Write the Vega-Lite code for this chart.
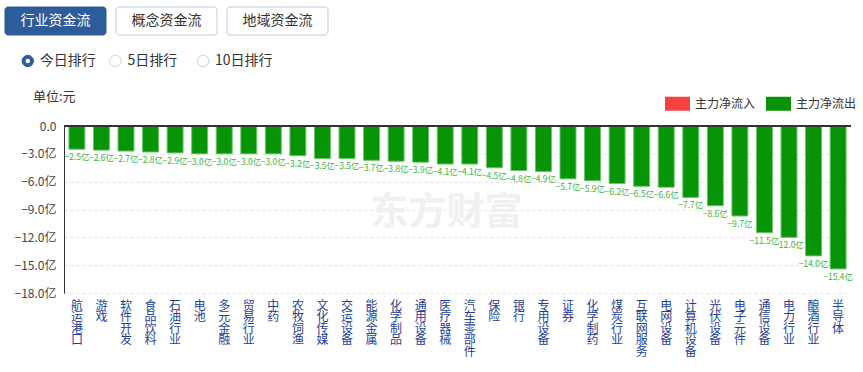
{
  "$schema": "https://vega.github.io/schema/vega-lite/v6.json",
  "background": "white",
  "padding": {"left": 0, "top": 0, "right": 0, "bottom": 0},
  "spacing": 9,
  "columns": 1,
  "resolve": {"legend": {"color": "independent"}, "scale": {"color": "independent"}},
  "config": {"view": {"stroke": null}, "font": "Noto Sans CJK SC"},
  "concat": [
    {
      "width": 333,
      "height": 82,
      "layer": [
        {
          "data": {"values": [
            {"name": "行业资金流", "sel": true, "row": "btn"},
            {"name": "概念资金流", "sel": false, "row": "btn"},
            {"name": "地域资金流", "sel": false, "row": "btn"}
          ]},
          "mark": {"type": "rect", "cornerRadius": 3, "strokeWidth": 1},
          "encoding": {
            "x": {"field": "name", "type": "nominal", "sort": null, "axis": null, "scale": {"paddingInner": 0.09, "paddingOuter": 0.045, "range": [-64, 269]}},
            "y": {"field": "row", "type": "nominal", "axis": null, "scale": {"domain": ["btn", "radio"], "paddingInner": 0.3, "paddingOuter": 0.175}},
            "fill": {"condition": {"test": "datum.sel", "value": "#2e5b99"}, "value": "white"},
            "stroke": {"condition": {"test": "datum.sel", "value": "#2e5b99"}, "value": "#b6cde5"}
          }
        },
        {
          "data": {"values": [
            {"name": "行业资金流", "sel": true, "row": "btn"},
            {"name": "概念资金流", "sel": false, "row": "btn"},
            {"name": "地域资金流", "sel": false, "row": "btn"}
          ]},
          "mark": {"type": "text", "fontSize": 14, "baseline": "middle", "align": "center"},
          "encoding": {
            "x": {"field": "name", "type": "nominal", "sort": null, "axis": null, "scale": {"paddingInner": 0.09, "paddingOuter": 0.045, "range": [-64, 269]}},
            "y": {"field": "row", "type": "nominal", "axis": null, "scale": {"domain": ["btn", "radio"], "paddingInner": 0.3, "paddingOuter": 0.175}},
            "text": {"field": "name"},
            "color": {"condition": {"test": "datum.sel", "value": "white"}, "value": "#333333"}
          }
        },
        {
          "data": {"values": [
            {"name": "今日排行", "sel": true, "row": "radio"},
            {"name": "5日排行", "sel": false, "row": "radio"},
            {"name": "10日排行", "sel": false, "row": "radio"}
          ]},
          "mark": {"type": "point", "shape": "circle", "filled": true, "size": 130, "strokeWidth": 1, "opacity": 1},
          "encoding": {
            "x": {"field": "name", "type": "nominal", "sort": null, "axis": null, "scale": {"type": "point", "padding": 0.9, "align": 0.176, "range": [-64, 269]}},
            "y": {"field": "row", "type": "nominal", "axis": null, "scale": {"domain": ["btn", "radio"], "paddingInner": 0.3, "paddingOuter": 0.175}},
            "fill": {"condition": {"test": "datum.sel", "value": "#2e5b99"}, "value": "white"},
            "stroke": {"condition": {"test": "datum.sel", "value": "#2e5b99"}, "value": "#c3d3e6"}
          }
        },
        {
          "data": {"values": [
            {"name": "今日排行", "sel": true, "row": "radio"},
            {"name": "5日排行", "sel": false, "row": "radio"},
            {"name": "10日排行", "sel": false, "row": "radio"}
          ]},
          "mark": {"type": "point", "shape": "circle", "filled": true, "size": 20, "opacity": 1},
          "encoding": {
            "x": {"field": "name", "type": "nominal", "sort": null, "axis": null, "scale": {"type": "point", "padding": 0.9, "align": 0.176, "range": [-64, 269]}},
            "y": {"field": "row", "type": "nominal", "axis": null, "scale": {"domain": ["btn", "radio"], "paddingInner": 0.3, "paddingOuter": 0.175}},
            "fill": {"condition": {"test": "datum.sel", "value": "white"}, "value": "transparent"}
          }
        },
        {
          "data": {"values": [
            {"name": "今日排行", "sel": true, "row": "radio"},
            {"name": "5日排行", "sel": false, "row": "radio"},
            {"name": "10日排行", "sel": false, "row": "radio"}
          ]},
          "mark": {"type": "text", "fontSize": 14, "baseline": "middle", "align": "left", "dx": 12, "color": "#333333"},
          "encoding": {
            "x": {"field": "name", "type": "nominal", "sort": null, "axis": null, "scale": {"type": "point", "padding": 0.9, "align": 0.176, "range": [-64, 269]}},
            "y": {"field": "row", "type": "nominal", "axis": null, "scale": {"domain": ["btn", "radio"], "paddingInner": 0.3, "paddingOuter": 0.175}},
            "text": {"field": "name"}
          }
        }
      ],
      "resolve": {"scale": {"x": "independent"}}
    },
    {
      "width": 787,
      "height": 167,
      "title": {"text": "单位:元", "anchor": "start", "frame": "group", "dx": -31, "offset": -13, "fontSize": 13, "fontWeight": "normal", "color": "#333333"},
      "data": {"values": [
        {"name": "航运港口", "value": -2.5, "flow": "主力净流出"},
        {"name": "游戏", "value": -2.6, "flow": "主力净流出"},
        {"name": "软件开发", "value": -2.7, "flow": "主力净流出"},
        {"name": "食品饮料", "value": -2.8, "flow": "主力净流出"},
        {"name": "石油行业", "value": -2.9, "flow": "主力净流出"},
        {"name": "电池", "value": -3.0, "flow": "主力净流出"},
        {"name": "多元金融", "value": -3.0, "flow": "主力净流出"},
        {"name": "贸易行业", "value": -3.0, "flow": "主力净流出"},
        {"name": "中药", "value": -3.0, "flow": "主力净流出"},
        {"name": "农牧饲渔", "value": -3.2, "flow": "主力净流出"},
        {"name": "文化传媒", "value": -3.5, "flow": "主力净流出"},
        {"name": "交运设备", "value": -3.5, "flow": "主力净流出"},
        {"name": "能源金属", "value": -3.7, "flow": "主力净流出"},
        {"name": "化学制品", "value": -3.8, "flow": "主力净流出"},
        {"name": "通用设备", "value": -3.9, "flow": "主力净流出"},
        {"name": "医疗器械", "value": -4.1, "flow": "主力净流出"},
        {"name": "汽车零部件", "value": -4.1, "flow": "主力净流出"},
        {"name": "保险", "value": -4.5, "flow": "主力净流出"},
        {"name": "银行", "value": -4.8, "flow": "主力净流出"},
        {"name": "专用设备", "value": -4.9, "flow": "主力净流出"},
        {"name": "证券", "value": -5.7, "flow": "主力净流出"},
        {"name": "化学制药", "value": -5.9, "flow": "主力净流出"},
        {"name": "煤炭行业", "value": -6.2, "flow": "主力净流出"},
        {"name": "互联网服务", "value": -6.5, "flow": "主力净流出"},
        {"name": "电网设备", "value": -6.6, "flow": "主力净流出"},
        {"name": "计算机设备", "value": -7.7, "flow": "主力净流出"},
        {"name": "光伏设备", "value": -8.6, "flow": "主力净流出"},
        {"name": "电子元件", "value": -9.7, "flow": "主力净流出"},
        {"name": "通信设备", "value": -11.5, "flow": "主力净流出"},
        {"name": "电力行业", "value": -12.0, "flow": "主力净流出"},
        {"name": "酿酒行业", "value": -14.0, "flow": "主力净流出"},
        {"name": "半导体", "value": -15.4, "flow": "主力净流出"}
      ]},
      "encoding": {
        "x": {
          "field": "name", "type": "nominal", "sort": null,
          "scale": {"paddingInner": 0.35, "paddingOuter": 0.2},
          "axis": {"title": null, "labelAngle": 0, "labelExpr": "split(datum.label, '')", "domain": false, "ticks": false, "grid": false, "labelPadding": 7, "labelFontSize": 12, "labelColor": "#1f3f95", "labelLineHeight": 11.5, "labelBaseline": "top", "labelOverlap": false}
        },
        "y": {
          "field": "value", "type": "quantitative",
          "scale": {"domain": [-18, 0], "nice": false, "zero": true},
          "axis": {"title": null, "values": [0, -3, -6, -9, -12, -15, -18], "labelExpr": "datum.value == 0 ? '0.0' : format(datum.value, '.1f') + '亿'", "labelOverlap": false, "domainColor": "#333333", "ticks": false, "tickSize": 0, "labelPadding": 8, "labelFontSize": 12, "labelColor": "#444444", "gridDash": [3, 3], "gridColor": "#e3e3e3", "minExtent": 64}
        }
      },
      "layer": [
        {
          "data": {"values": [{"wm": "东方财富"}]},
          "mark": {"type": "text", "fontSize": 38, "fontWeight": "bold", "color": "#f0f0f0", "dx": -11, "dy": 3, "baseline": "middle", "align": "center"},
          "encoding": {"x": null, "y": null, "text": {"field": "wm"}}
        },
        {
          "mark": {"type": "bar", "stroke": "#6cc46c", "strokeWidth": 1},
          "encoding": {
            "color": {
              "field": "flow", "type": "nominal",
              "scale": {"domain": ["主力净流入", "主力净流出"], "range": ["#f44141", "#079407"]},
              "legend": {"orient": "none", "legendX": 601, "legendY": -35, "direction": "horizontal", "title": null, "symbolType": "M-1,-0.56H1V0.56H-1Z", "symbolSize": 625, "symbolStrokeWidth": 0, "symbolOpacity": 1, "labelFontSize": 12, "labelColor": "#333333", "labelOffset": 5, "columnPadding": 10}
            }
          }
        },
        {
          "transform": [{"calculate": "format(datum.value, '.1f') + '亿'", "as": "lbl"}],
          "mark": {"type": "text", "fontSize": 8.5, "color": "#3bb43b", "baseline": "middle", "align": "center", "dy": 8},
          "encoding": {
            "text": {"field": "lbl"}
          }
        },
        {
          "mark": {"type": "rule", "color": "#333333", "strokeWidth": 1},
          "encoding": {"x": null, "y": {"datum": 0, "type": "quantitative"}}
        }
      ]
    }
  ]
}
